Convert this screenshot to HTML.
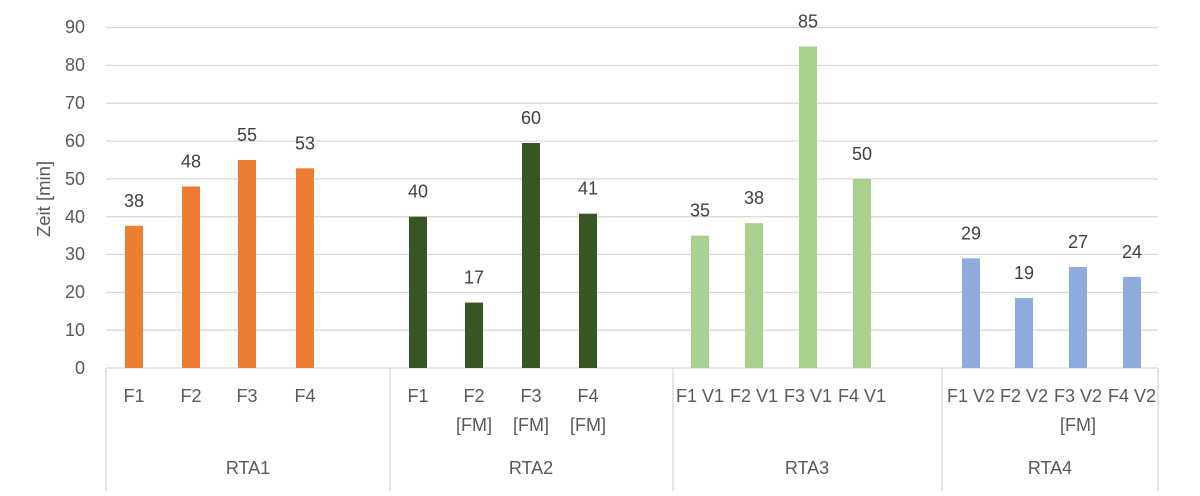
<!DOCTYPE html><html><head><meta charset="utf-8"><style>body{margin:0;background:#fff}</style></head><body>
<svg width="1200" height="491" xmlns="http://www.w3.org/2000/svg" font-family="Liberation Sans, sans-serif">
<g stroke="#d9d9d9" stroke-width="1.3">
<line x1="106" x2="1158" y1="330.2" y2="330.2"/><line x1="106" x2="1158" y1="292.4" y2="292.4"/><line x1="106" x2="1158" y1="254.5" y2="254.5"/><line x1="106" x2="1158" y1="216.7" y2="216.7"/><line x1="106" x2="1158" y1="178.9" y2="178.9"/><line x1="106" x2="1158" y1="141.1" y2="141.1"/><line x1="106" x2="1158" y1="103.2" y2="103.2"/><line x1="106" x2="1158" y1="65.4" y2="65.4"/><line x1="106" x2="1158" y1="27.6" y2="27.6"/>
<line x1="106" x2="1158" y1="368" y2="368"/>
<line x1="106" x2="106" y1="368" y2="491"/><line x1="390" x2="390" y1="368" y2="491"/><line x1="673" x2="673" y1="368" y2="491"/><line x1="942" x2="942" y1="368" y2="491"/><line x1="1158" x2="1158" y1="368" y2="491"/>
</g>
<g font-size="18" fill="#595959" text-anchor="end">
<text x="85" y="374">0</text><text x="85" y="336">10</text><text x="85" y="298">20</text><text x="85" y="260">30</text><text x="85" y="223">40</text><text x="85" y="185">50</text><text x="85" y="147">60</text><text x="85" y="109">70</text><text x="85" y="71">80</text><text x="85" y="33">90</text>
</g>
<text transform="translate(50,199) rotate(-90)" font-size="18.5" fill="#595959" text-anchor="middle">Zeit [min]</text>
<g id="bars"></g>
<g font-size="18" fill="#404040" text-anchor="middle" id="labels"></g>
<g font-size="18" fill="#595959" text-anchor="middle">
<text x="134" y="402">F1</text><text x="191" y="402">F2</text><text x="247" y="402">F3</text><text x="305" y="402">F4</text>
<text x="418" y="402">F1</text><text x="474" y="402">F2</text><text x="474" y="431">[FM]</text><text x="531" y="402">F3</text><text x="531" y="431">[FM]</text><text x="588" y="402">F4</text><text x="588" y="431">[FM]</text>
<text x="700" y="402">F1 V1</text><text x="754" y="402">F2 V1</text><text x="808" y="402">F3 V1</text><text x="862" y="402">F4 V1</text>
<text x="971" y="402">F1 V2</text><text x="1024" y="402">F2 V2</text><text x="1078" y="402">F3 V2</text><text x="1078" y="431">[FM]</text><text x="1132" y="402">F4 V2</text>
<text x="248" y="474">RTA1</text><text x="531" y="474">RTA2</text><text x="807" y="474">RTA3</text><text x="1050" y="474">RTA4</text>
</g>
<script>
var d=[[134,37.6,"38","#ED7D31"],[191,48,"48","#ED7D31"],[247,55,"55","#ED7D31"],[305,52.8,"53","#ED7D31"],
[418,40,"40","#375623"],[474,17.3,"17","#375623"],[531,59.5,"60","#375623"],[588,40.8,"41","#375623"],
[700,35,"35","#A9D18E"],[754,38.3,"38","#A9D18E"],[808,85,"85","#A9D18E"],[862,50,"50","#A9D18E"],
[971,29,"29","#8FAADC"],[1024,18.5,"19","#8FAADC"],[1078,26.7,"27","#8FAADC"],[1132,24.1,"24","#8FAADC"]];
var ns="http://www.w3.org/2000/svg",b=document.getElementById("bars"),l=document.getElementById("labels");
d.forEach(function(e){var h=e[1]*3.782,y=368-h;var r=document.createElementNS(ns,"rect");r.setAttribute("x",e[0]-9);r.setAttribute("y",y);r.setAttribute("width",18);r.setAttribute("height",h);r.setAttribute("fill",e[3]);b.appendChild(r);
var t=document.createElementNS(ns,"text");t.setAttribute("x",e[0]);t.setAttribute("y",y-19);t.textContent=e[2];l.appendChild(t);});
</script>
</svg></body></html>
